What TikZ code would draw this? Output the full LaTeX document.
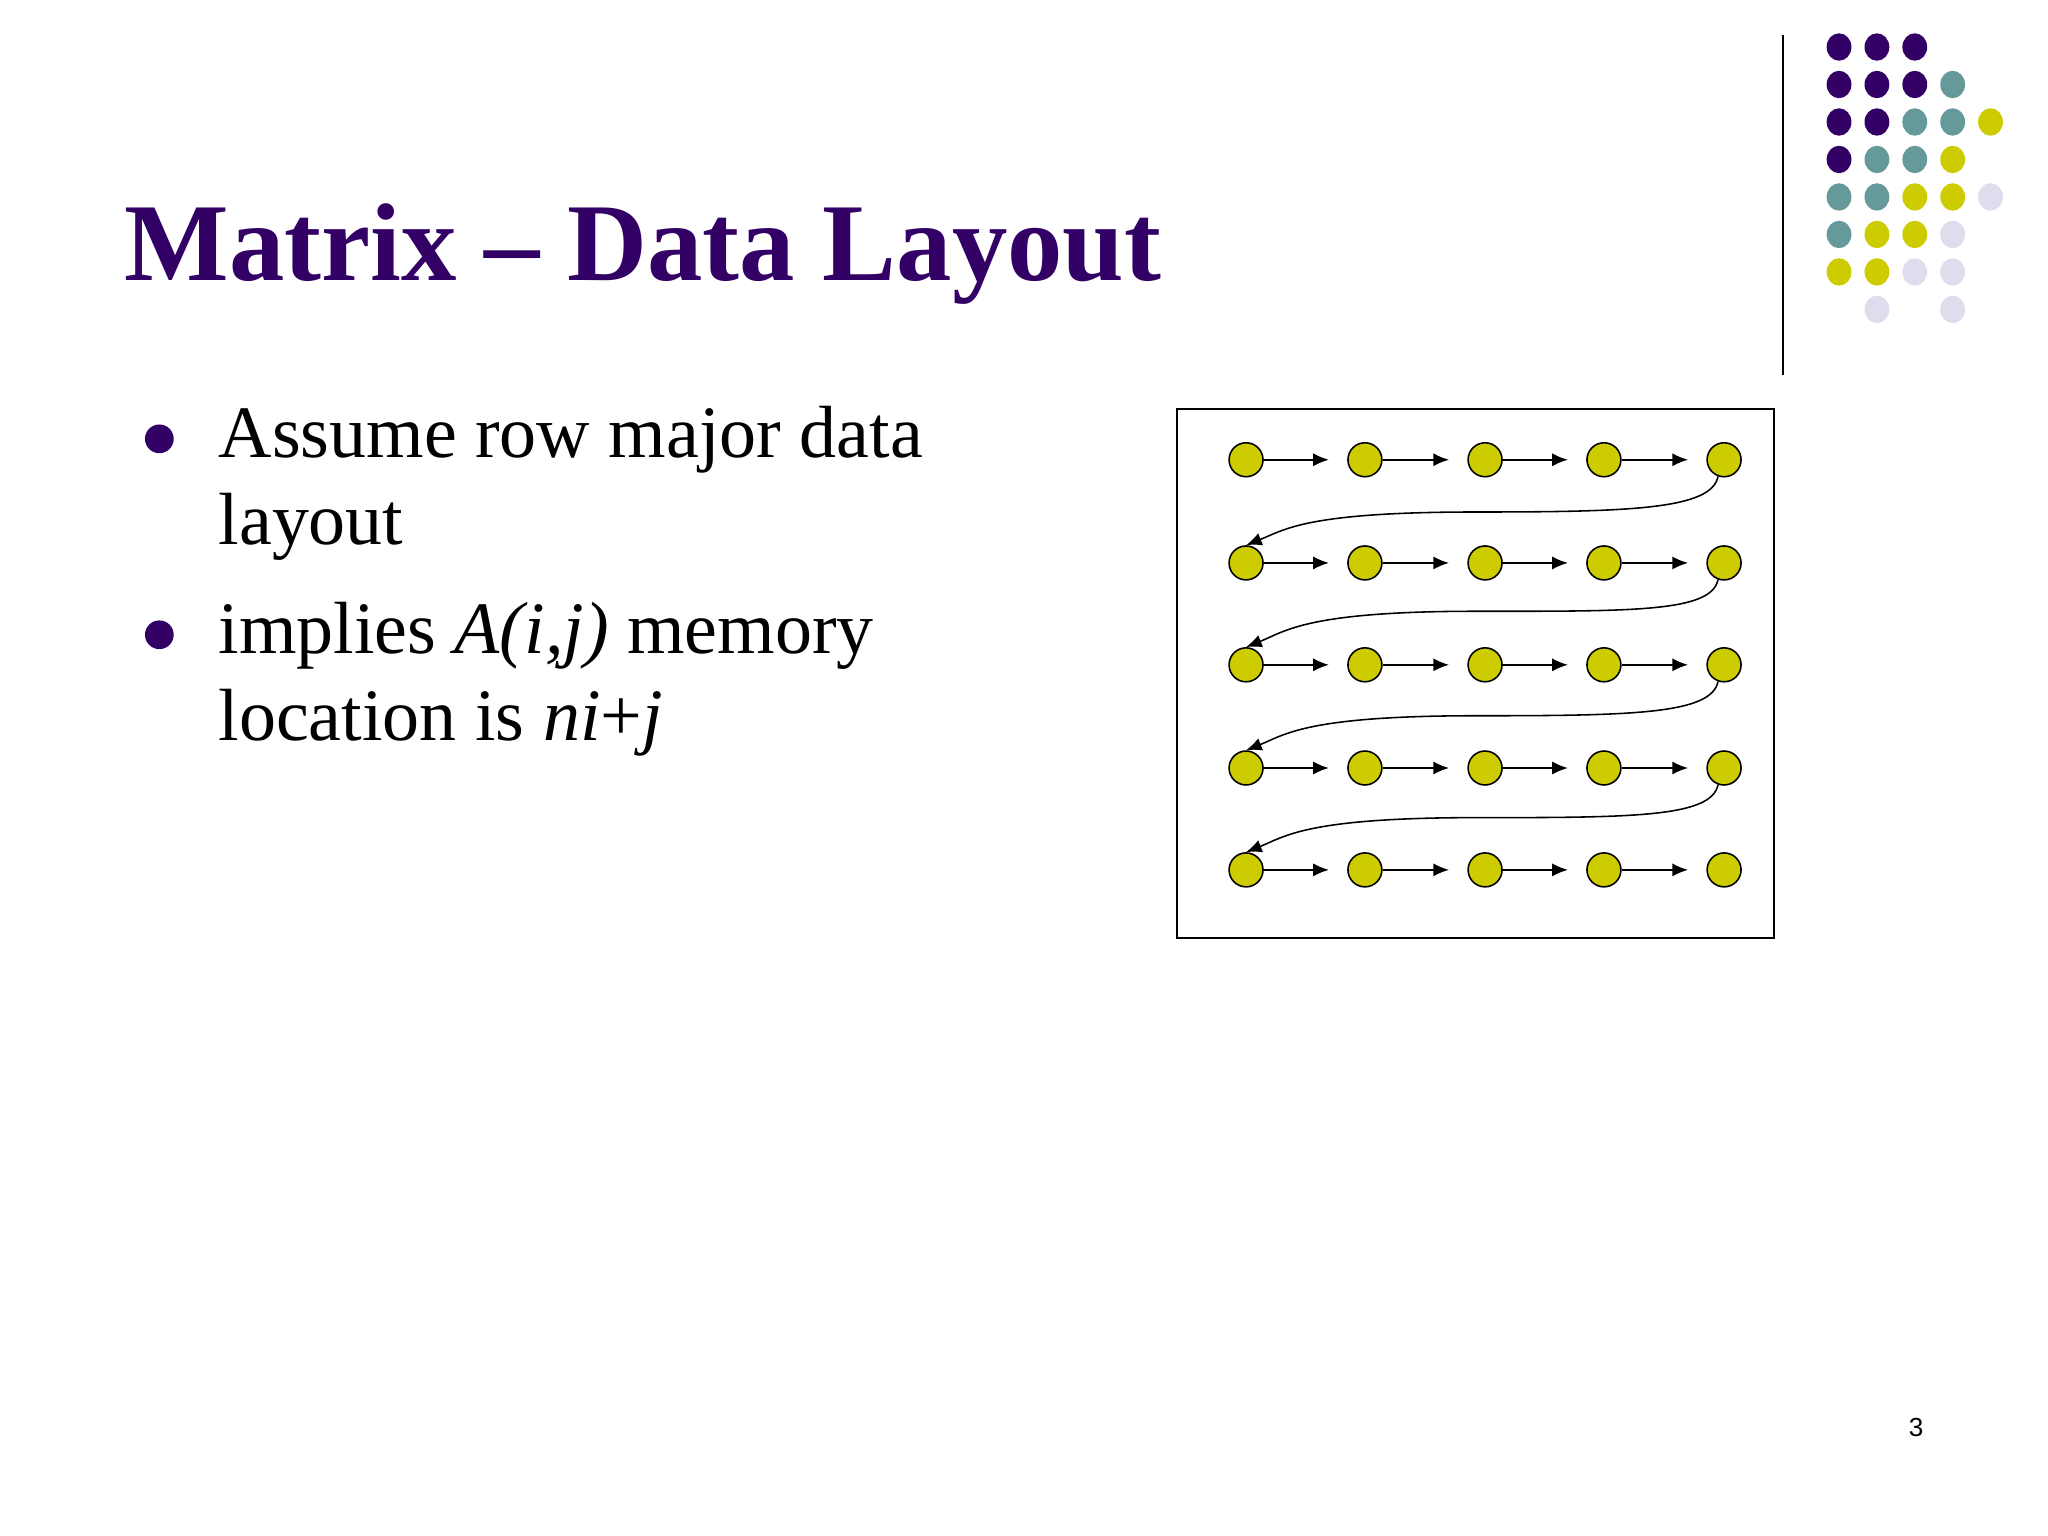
\documentclass[tikz,border=0pt]{standalone}
\usepackage{fontspec}
\setmainfont{Liberation Serif}
\setsansfont{Liberation Sans}
\usetikzlibrary{arrows.meta,shapes.geometric}
\definecolor{pur}{HTML}{330066}
\definecolor{tea}{HTML}{669999}
\definecolor{yel}{HTML}{CCCC00}
\definecolor{lav}{HTML}{DDDDEE}
\begin{document}
\begin{tikzpicture}[x=0.5pt,y=-0.5pt,
  cell/.style={circle,draw=black,fill=yel,minimum size=13pt,inner sep=0pt,line width=0.6pt},
  conn/.style={-{Latex[length=6pt,width=5pt]},line width=0.6pt}]
\useasboundingbox (0,0) rectangle (1568,1176);
\fill[white] (0,0) rectangle (1568,1176);
% decorative dots
\foreach \row/\cols in {0/{pur,pur,pur},1/{pur,pur,pur,tea},2/{pur,pur,tea,tea,yel},3/{pur,tea,tea,yel},4/{tea,tea,yel,yel,lav},5/{tea,yel,yel,lav},6/{yel,yel,lav,lav},7/{white,lav,white,lav}}{
  \foreach \c [count=\i from 0] in \cols {
    \fill[\c] ({1408+29*\i},{36+28.7*\row}) ellipse [x radius=4.75pt, y radius=5.25pt];
  }
}
\draw[line width=0.8pt] (1365,27) -- (1365,287);
% title
\node[anchor=base west,inner sep=0pt,text=pur,font=\fontsize{42.4pt}{44pt}\selectfont\bfseries] (title) at (95,215) {Matrix – Data Layout};
% bullets
\fill[pur] (122,336) circle [radius=11];
\fill[pur] (122,486) circle [radius=11];
\begin{scope}[every node/.style={anchor=base west,inner sep=0pt,font=\fontsize{28.3pt}{30pt}\selectfont}]
\node (l1) at (167,350) {Assume row major data};
\node (l2) at (167,417) {layout};
\node (l3) at (167,500) {implies \textit{A(i,j)} memory};
\node (l4) at (167,567) {location is \textit{ni}+\textit{j}};
\end{scope}
\node[font=\sffamily\fontsize{10pt}{12pt}\selectfont] (pg) at (1467,1093) {3};
% box
\draw[line width=0.7pt] (901,313) rectangle (1358,718);
\foreach \r/\y in {1/352,2/431,3/509,4/588,5/666}{
  \foreach \c/\x in {1/954,2/1045,3/1137,4/1228,5/1320}{
    \node[cell] (n\r\c) at (\x,\y) {};
  }
  \foreach \a/\b in {1/2,2/3,3/4,4/5}{
    \draw[conn] (n\r\a.east) -- ([xshift=-7pt]n\r\b.west);
  }
}
\foreach \r/\s/\y in {1/2/392,2/3/468,3/4/548,4/5/626}{
  \draw[conn] (n\r5.250) .. controls +(-5,25) and +(120,0) .. (1130,\y) .. controls +(-130,0) and +(30,-12) .. (n\s1.north);
}
\end{tikzpicture}
\end{document}
